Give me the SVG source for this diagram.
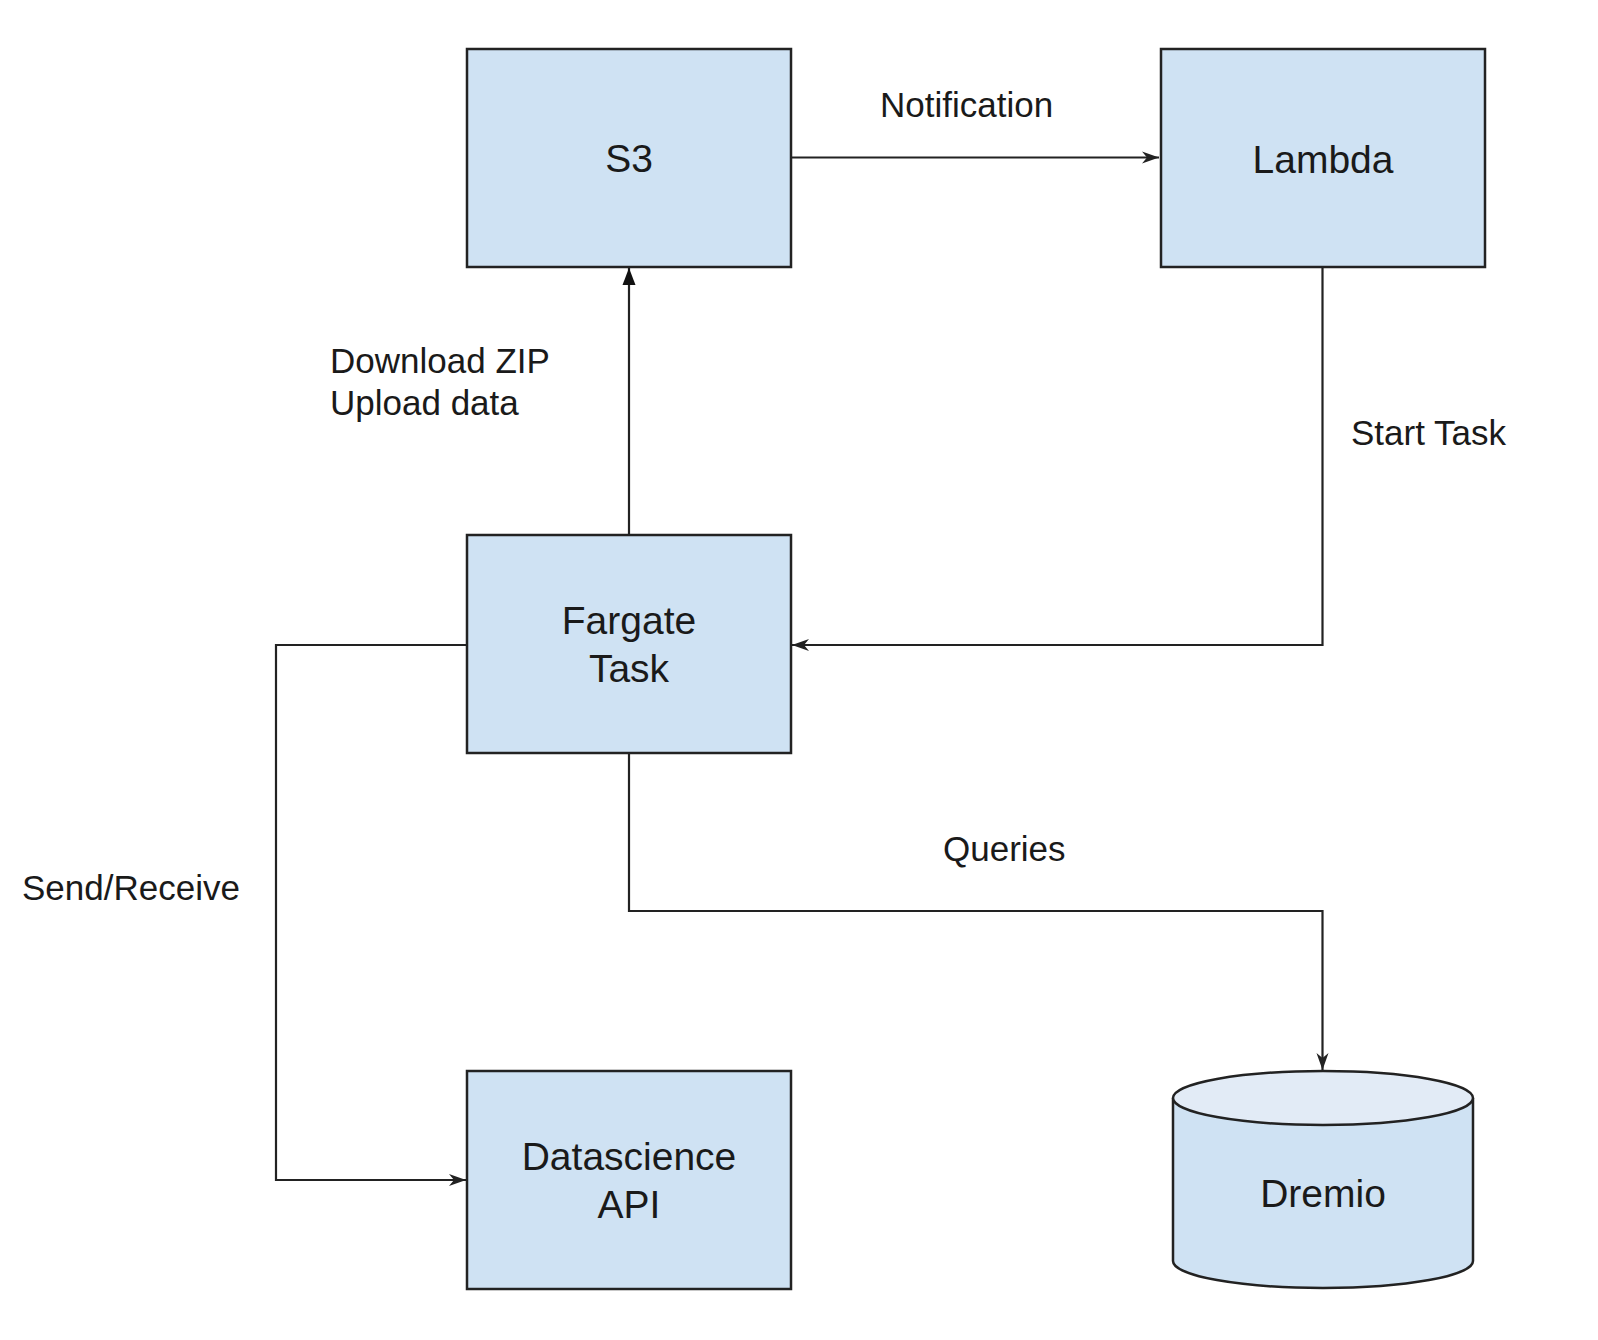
<svg xmlns="http://www.w3.org/2000/svg" width="1598" height="1340" viewBox="0 0 1598 1340">
<style>
  .box { fill: #cfe2f3; stroke: #222; stroke-width: 2.5; }
  .cyl { fill: #cfe2f3; stroke: #222; stroke-width: 2.5; }
  .cyltop { fill: #e2ebf6; stroke: #222; stroke-width: 2.5; }
  .node-text { font-family: "Liberation Sans", Arial, sans-serif; font-size: 39px; fill: #1a1a1a; text-anchor: middle; }
  .label { font-family: "Liberation Sans", Arial, sans-serif; font-size: 35px; fill: #1a1a1a; }
  .conn { fill: none; stroke: #222; stroke-width: 2.2; }
</style>
<defs>
  <marker id="open" markerUnits="userSpaceOnUse" markerWidth="18" markerHeight="14" viewBox="0 -7 18 14" refX="17" refY="0" orient="auto">
    <path d="M0,-6 L17,0 L0,6 L5,0 Z" fill="#222"/>
  </marker>
  <marker id="filled" markerUnits="userSpaceOnUse" markerWidth="18" markerHeight="14" viewBox="0 -7 18 14" refX="17" refY="0" orient="auto">
    <path d="M0,-6.5 L17,0 L0,6.5 Z" fill="#111"/>
  </marker>
</defs>
<rect width="1598" height="1340" fill="#ffffff"/>

<g id="connectors">
  <path class="conn" d="M791,157.5 H1159" marker-end="url(#open)"/>
  <path class="conn" d="M629,535 V268" marker-end="url(#filled)"/>
  <path class="conn" d="M1322.5,267 V645 H792" marker-end="url(#open)"/>
  <path class="conn" d="M467,645 H276 V1180 H466" marker-end="url(#open)"/>
  <path class="conn" d="M629,753 V911 H1322.5 V1070" marker-end="url(#open)"/>
  <text class="label" x="880" y="117">Notification</text>
  <text class="label" x="330" y="373">Download ZIP</text>
  <text class="label" x="330" y="415">Upload data</text>
  <text class="label" x="1351" y="445">Start Task</text>
  <text class="label" x="22" y="900">Send/Receive</text>
  <text class="label" x="943" y="861">Queries</text>
</g>

<g id="s3">
  <rect class="box" x="467" y="49" width="324" height="218"/>
  <text class="node-text" x="629" y="172">S3</text>
</g>

<g id="lambda">
  <rect class="box" x="1161" y="49" width="324" height="218"/>
  <text class="node-text" x="1323" y="172.5">Lambda</text>
</g>

<g id="fargate">
  <rect class="box" x="467" y="535" width="324" height="218"/>
  <text class="node-text" x="629" y="634">Fargate</text>
  <text class="node-text" x="629" y="682">Task</text>
</g>

<g id="datascience">
  <rect class="box" x="467" y="1071" width="324" height="218"/>
  <text class="node-text" x="629" y="1170">Datascience</text>
  <text class="node-text" x="629" y="1218">API</text>
</g>

<g id="dremio">
  <path class="cyl" d="M1173,1098 V1261 A150,27 0 0 0 1473,1261 V1098"/>
  <ellipse class="cyltop" cx="1323" cy="1098" rx="150" ry="27"/>
  <text class="node-text" x="1323" y="1207">Dremio</text>
</g>
</svg>
